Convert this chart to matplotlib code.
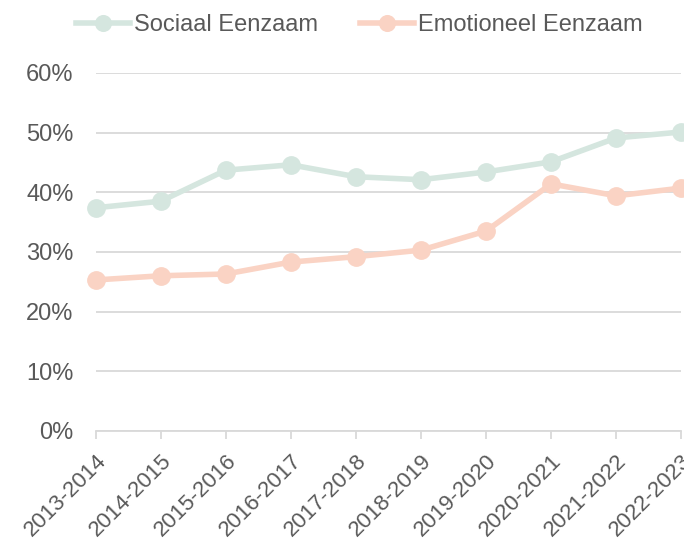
import matplotlib.pyplot as plt
from matplotlib.ticker import PercentFormatter

plt.rcParams['font.family'] = ['Liberation Sans', 'DejaVu Sans']

jaren = ['2013-2014', '2014-2015', '2015-2016', '2016-2017', '2017-2018',
         '2018-2019', '2019-2020', '2020-2021', '2021-2022', '2022-2023']
sociaal = [37.4, 38.5, 43.7, 44.6, 42.6, 42.1, 43.4, 45.1, 49.1, 50.1]
emotioneel = [25.3, 26.0, 26.3, 28.3, 29.2, 30.3, 33.5, 41.4, 39.4, 40.7]

groen = '#d5e6df'
perzik = '#fad3c4'
tekst = '#595959'
grijs = '#d9d9d9'

fig = plt.figure(figsize=(6.84, 5.4), dpi=100)
ax = fig.add_axes([0.140, 0.202, 0.856, 0.663])

x = list(range(len(jaren)))
ax.plot(x, sociaal, color=groen, lw=4, marker='o', ms=12.5,
        label='Sociaal Eenzaam', clip_on=False, zorder=3)
ax.plot(x, emotioneel, color=perzik, lw=4, marker='o', ms=12.5,
        label='Emotioneel Eenzaam', clip_on=False, zorder=3)

ax.set_xlim(0, len(jaren) - 1)
ax.set_ylim(0, 60)
ax.set_yticks(range(0, 61, 10))
ax.yaxis.set_major_formatter(PercentFormatter(decimals=0))
ax.grid(axis='y', color=grijs, lw=1.3)
ax.set_axisbelow(True)

ax.set_xticks(x)
ax.set_xticklabels(jaren, rotation=45, ha='right', rotation_mode='anchor')

for s in ['top', 'right', 'left']:
    ax.spines[s].set_visible(False)
ax.spines['bottom'].set_color(grijs)
ax.spines['bottom'].set_linewidth(1.3)

ax.tick_params(axis='y', length=0, pad=16, labelsize=17, labelcolor=tekst)
ax.tick_params(axis='x', length=6, width=1.3, color=grijs, pad=8,
               labelsize=16, labelcolor=tekst)

fig.legend(loc='upper center', bbox_to_anchor=(0.525, 1.013), ncol=2,
           frameon=False, fontsize=17, labelcolor=tekst, handlelength=2.3,
           handletextpad=0.15, columnspacing=1.8, markerscale=0.9)

plt.savefig('out.png', dpi=100)
